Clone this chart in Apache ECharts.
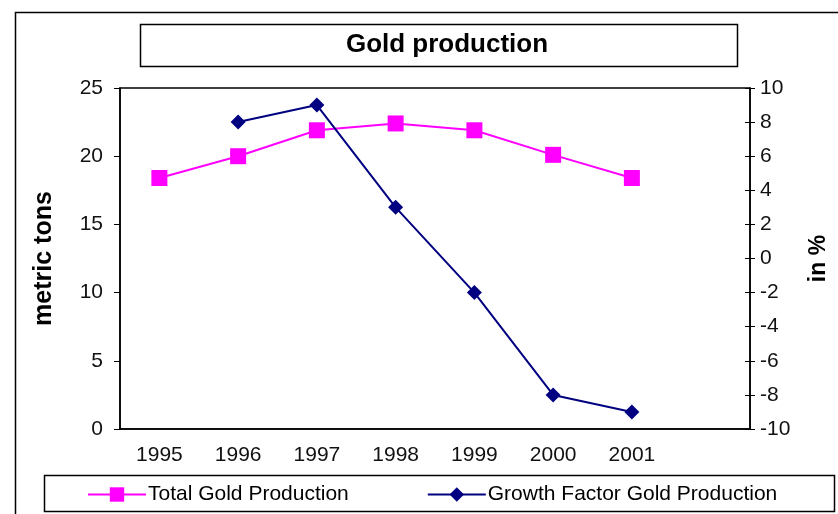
<!DOCTYPE html>
<html>
<head>
<meta charset="utf-8">
<script src="https://cdn.jsdelivr.net/npm/echarts@6/dist/echarts.min.js"></script>
<style>
  html, body { margin: 0; padding: 0; background: #fff; }
  #chart { width: 838px; height: 514px; }
</style>
</head>
<body>
<div id="chart"></div>
<script>
// categories (last slot left empty, as in the original sheet)
var years = ['1995', '1996', '1997', '1998', '1999', '2000', '2001', ''];
// metric tons
var totalProduction = [18.4, 20.0, 21.9, 22.4, 21.9, 20.1, 18.4];
// growth in %
var growthFactor = [null, 8, 9, 3, -2, -8, -9];

var font = 'Liberation Sans, Arial, sans-serif';
var chart = echarts.init(document.getElementById('chart'));

var option = {
  backgroundColor: '#fff',
  animation: false,
  textStyle: { fontFamily: font },
  title: {
    text: 'Gold production',
    left: 442,
    top: 27,
    textAlign: 'center',
    textStyle: { fontSize: 26, fontWeight: 'bold', color: '#000', fontFamily: font }
  },
  graphic: [
    {
      type: 'rect', left: 13, top: 10, silent: true,
      shape: { width: 830, height: 510 },
      style: { fill: 'none', stroke: '#000', lineWidth: 1.5 }
    },
    {
      type: 'rect', left: 138, top: 22, silent: true,
      shape: { width: 597, height: 42 },
      style: { fill: 'none', stroke: '#000', lineWidth: 1.5 }
    },
    {
      type: 'rect', left: 42, top: 473, silent: true,
      shape: { width: 790, height: 36 },
      style: { fill: 'none', stroke: '#000', lineWidth: 1.5 }
    }
  ],
  legend: {
    left: 82,
    top: 479,
    itemWidth: 58,
    itemHeight: 18,
    itemGap: 78,
    textStyle: { fontSize: 21, color: '#000', fontFamily: font, padding: [0, 0, 0, -3] },
    data: ['Total Gold Production', 'Growth Factor Gold Production']
  },
  grid: { left: 120, right: 86, top: 88, bottom: 85, show: true, borderColor: '#000', borderWidth: 1.5 },
  xAxis: {
    type: 'category',
    data: years,
    boundaryGap: true,
    axisLine: { lineStyle: { color: '#000', width: 1.5 } },
    axisTick: { length: 5, lineStyle: { color: '#000' } },
    axisLabel: { fontSize: 21, color: '#111', margin: 16, fontFamily: font }
  },
  yAxis: [
    {
      type: 'value', min: 0, max: 25, interval: 5, position: 'left',
      name: 'metric tons', nameLocation: 'middle', nameRotate: 90, nameGap: 63,
      nameTextStyle: { fontSize: 25, fontWeight: 'bold', color: '#000', fontFamily: font },
      axisLine: { show: true, lineStyle: { color: '#000', width: 1.5 } },
      axisTick: { show: true, length: 6, lineStyle: { color: '#000' } },
      axisLabel: { fontSize: 21, color: '#111', margin: 17, fontFamily: font },
      splitLine: { show: false }
    },
    {
      type: 'value', min: -10, max: 10, interval: 2, position: 'right',
      name: 'in %', nameLocation: 'middle', nameRotate: 90, nameGap: 57,
      nameTextStyle: { fontSize: 23, fontWeight: 'bold', color: '#000', fontFamily: font },
      axisLine: { show: true, lineStyle: { color: '#000', width: 1.5 } },
      axisTick: { show: true, length: 5, lineStyle: { color: '#000' } },
      axisLabel: { fontSize: 21, color: '#111', margin: 10, fontFamily: font },
      splitLine: { show: false }
    },
    {
      // inner half of the cross ticks on the right axis
      type: 'value', min: -10, max: 10, interval: 2, position: 'right',
      axisLine: { show: false },
      axisTick: { show: true, inside: true, length: 5, lineStyle: { color: '#000' } },
      axisLabel: { show: false },
      splitLine: { show: false }
    }
  ],
  series: [
    {
      name: 'Total Gold Production',
      type: 'line',
      yAxisIndex: 0,
      data: totalProduction,
      symbol: 'rect',
      symbolSize: 16,
      itemStyle: { color: '#FF00FF' },
      lineStyle: { color: '#FF00FF', width: 2 }
    },
    {
      name: 'Growth Factor Gold Production',
      type: 'line',
      yAxisIndex: 1,
      data: growthFactor,
      symbol: 'diamond',
      symbolSize: 15,
      itemStyle: { color: '#000080' },
      lineStyle: { color: '#000080', width: 2 }
    }
  ]
};

chart.setOption(option);
</script>
</body>
</html>
